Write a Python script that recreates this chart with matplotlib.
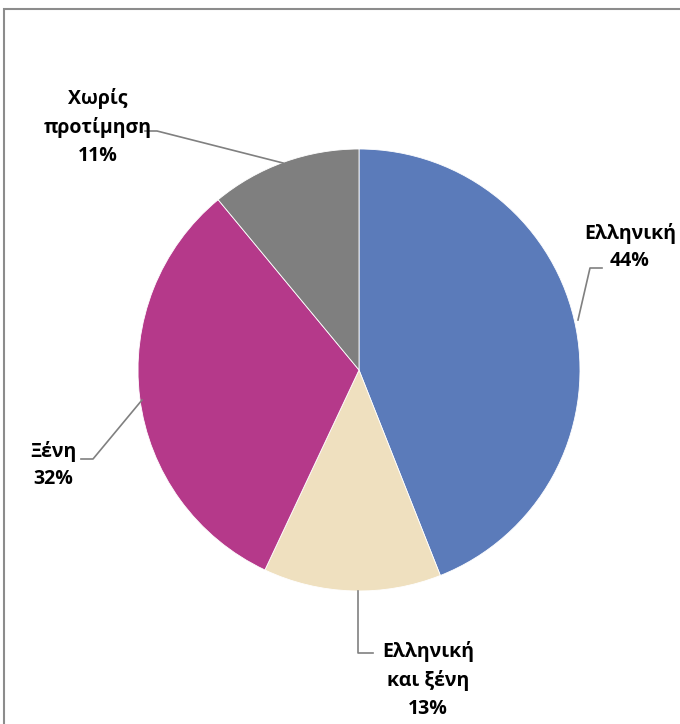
import matplotlib
matplotlib.use("Agg")
import matplotlib.pyplot as plt
from matplotlib.patches import Rectangle

labels = ["Ελληνική", "Ελληνική\nκαι ξένη", "Ξένη", "Χωρίς\nπροτίμηση"]
values = [44, 13, 32, 11]
colors = ["#5B7BBA", "#EFE0BF", "#B5398A", "#7F7F7F"]

W, H = 680, 724
fig = plt.figure(figsize=(W / 100, H / 100), dpi=100)
ax = fig.add_axes([0, 0, 1, 1])

def Y(y):
    return H - y

# chart border
ax.add_patch(Rectangle((4, Y(800)), 800, 800 - 9, fill=False, edgecolor="#8C8C8C", linewidth=1.5))

cx, cy, r = 359, 370, 221
ax.pie(values, colors=colors, startangle=90, counterclock=False,
       center=(cx, Y(cy)), radius=r, frame=True,
       wedgeprops=dict(linewidth=0.6, edgecolor="white"))
ax.set_xlim(0, W)
ax.set_ylim(0, H)
ax.set_aspect("equal")
ax.axis("off")

font = dict(family=["Open Sans", "DejaVu Sans"], fontsize=14, fontweight="bold",
            color="black", ha="center", va="center", linespacing=1.5)

# labels with percentages
pct = [f"{v}%" for v in values]
label_pos = [(630, 247), (428, 680), (53, 465), (98, 127)]
for lab, p, (x, y) in zip(labels, pct, label_pos):
    ax.text(x, Y(y), f"{lab}\n{p}", **font)

# leader lines
lc = "#808080"
leaders = [
    [(578, 320), (590, 268), (602, 268)],
    [(358, 591), (358, 653), (373, 653)],
    [(142, 400), (93, 459), (81, 459)],
    [(283, 163), (157, 131), (145, 131)],
]
for pts in leaders:
    xs = [p[0] for p in pts]
    ys = [Y(p[1]) for p in pts]
    ax.plot(xs, ys, color=lc, linewidth=1.2)

fig.savefig("out.png", dpi=100)
